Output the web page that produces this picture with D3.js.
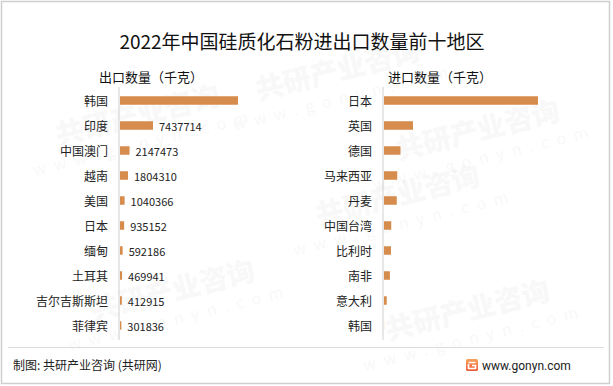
<!DOCTYPE html>
<html>
<head>
<meta charset="utf-8">
<script src="https://cdn.jsdelivr.net/npm/d3@7/dist/d3.min.js"></script>
<style>
  html, body { margin: 0; padding: 0; background: #fff; }
  svg { display: block; font-family: "Noto Sans CJK SC", "Microsoft YaHei", sans-serif; }
</style>
</head>
<body>
<svg id="chart" width="613" height="386"></svg>
<script>
// export top-10 (kg)
const exportNames  = ['韩国', '印度', '中国澳门', '越南', '美国', '日本', '缅甸', '土耳其', '吉尔吉斯斯坦', '菲律宾'];
const exportValues = [26600000, 7437714, 2147473, 1804310, 1040366, 935152, 592186, 469941, 412915, 301836];
const exportShowLabel = [false, true, true, true, true, true, true, true, true, true];

// import top-10 (kg), no labels in the source
const importNames  = ['日本', '英国', '德国', '马来西亚', '丹麦', '中国台湾', '比利时', '南非', '意大利', '韩国'];
const importValues = [3080000, 580000, 330000, 265000, 255000, 145000, 140000, 118000, 55000, 2000];

const title = '2022年中国硅质化石粉进出口数量前十地区';
const exportTitle = '出口数量（千克）';
const importTitle = '进口数量（千克）';
const footerLeft = '制图: 共研产业咨询 (共研网)';
const footerRight = 'www.gonyn.com';

const BAR = '#d68c4c';
const svg = d3.select('#chart');

// faint watermarks, kept inside the frame
const wm = svg.append('g').style('pointer-events', 'none');
const wmSpots = [[140, 125], [340, 80], [480, 140], [175, 300], [400, 205], [470, 320]];
wmSpots.forEach(([x, y]) => {
  const g = wm.append('g').attr('transform', `translate(${x},${y}) rotate(-14)`);
  g.append('text').attr('text-anchor', 'middle')
    .style('font-size', '28px').style('font-weight', '900')
    .style('fill', '#000').style('opacity', 0.025)
    .text('共研产业咨询');
  g.append('text').attr('text-anchor', 'middle').attr('y', 24)
    .style('font-size', '16px').style('letter-spacing', '8px')
    .style('fill', '#000').style('opacity', 0.025)
    .text('www.gonyn.com');
});

// frame
svg.append('rect')
  .attr('x', 1.5).attr('y', 1.5).attr('width', 608).attr('height', 382)
  .style('fill', 'none').style('stroke', '#cfcfcf').style('stroke-width', 1.5);

svg.append('text')
  .attr('x', 302).attr('y', 49).attr('text-anchor', 'middle')
  .style('font-size', '19px').style('fill', '#111')
  .text(title);

const rowBand = d3.scaleBand().domain(d3.range(10)).range([88, 338]).paddingInner(0.66).paddingOuter(0.33);

function drawPanel({ names, values, axisX, maxX, maxV, head, headX, showLabel }) {
  const x = d3.scaleLinear().domain([0, maxV]).range([axisX, maxX]);
  const g = svg.append('g');

  g.append('text').attr('x', headX).attr('y', 82)
    .style('font-size', '13px').style('fill', '#111').text(head);

  g.selectAll('rect.bar').data(values).join('rect')
    .attr('class', 'bar')
    .attr('x', x(0) + 1)
    .attr('y', (d, i) => rowBand(i))
    .attr('width', d => Math.max(0, x(d) - x(0)))
    .attr('height', rowBand.bandwidth())
    .style('fill', BAR);

  g.selectAll('text.cat').data(names).join('text')
    .attr('class', 'cat')
    .attr('x', axisX - 11)
    .attr('y', (d, i) => rowBand(i) + rowBand.bandwidth() / 2)
    .attr('text-anchor', 'end').attr('dominant-baseline', 'central')
    .style('font-size', '12px').style('fill', '#222')
    .text(d => d);

  if (showLabel) {
    g.selectAll('text.val').data(values).join('text')
      .attr('class', 'val')
      .attr('x', d => x(d) + 7)
      .attr('y', (d, i) => rowBand(i) + rowBand.bandwidth() / 2)
      .attr('dominant-baseline', 'central')
      .style('font-size', '11px').style('fill', '#222')
      .text((d, i) => showLabel[i] ? d : '');
  }

  const axisG = g.append('g').attr('transform', `translate(${axisX},0)`);
  axisG.append('line').attr('y1', 87).attr('y2', 340)
    .style('stroke', '#d0d0d0').style('stroke-width', 1);
}

drawPanel({
  names: exportNames, values: exportValues,
  axisX: 119, maxX: 119 + 118, maxV: exportValues[0],
  head: exportTitle, headX: 99, showLabel: exportShowLabel
});

drawPanel({
  names: importNames, values: importValues,
  axisX: 383, maxX: 383 + 154, maxV: importValues[0],
  head: importTitle, headX: 388, showLabel: null
});

// footer
svg.append('line').attr('x1', 8).attr('x2', 604).attr('y1', 347.5).attr('y2', 347.5)
  .style('stroke', '#dcdcdc').style('stroke-width', 1);

svg.append('text').attr('x', 13).attr('y', 370)
  .style('font-size', '12px').style('fill', '#222').text(footerLeft);

const grad = svg.append('defs').append('linearGradient').attr('id', 'lg')
  .attr('x1', 0).attr('y1', 0).attr('x2', 0).attr('y2', 1);
grad.append('stop').attr('offset', '0%').attr('stop-color', '#f7a25a');
grad.append('stop').attr('offset', '100%').attr('stop-color', '#ee5a3a');

const logo = svg.append('g').attr('transform', 'translate(466,359)');
logo.append('rect').attr('width', 12).attr('height', 12).attr('rx', 1.5).style('fill', 'url(#lg)');
logo.append('path').attr('d', 'M2.5 3.5 H9.5 M6 6.5 H9.5 V9.5 H2.5 V5')
  .style('fill', 'none').style('stroke', '#fff').style('stroke-width', 1.6);

svg.append('text').attr('x', 482).attr('y', 370)
  .style('font-size', '12px').style('fill', '#222')
  .style('font-family', 'Roboto, "Noto Sans", sans-serif')
  .text(footerRight);
</script>
</body>
</html>
